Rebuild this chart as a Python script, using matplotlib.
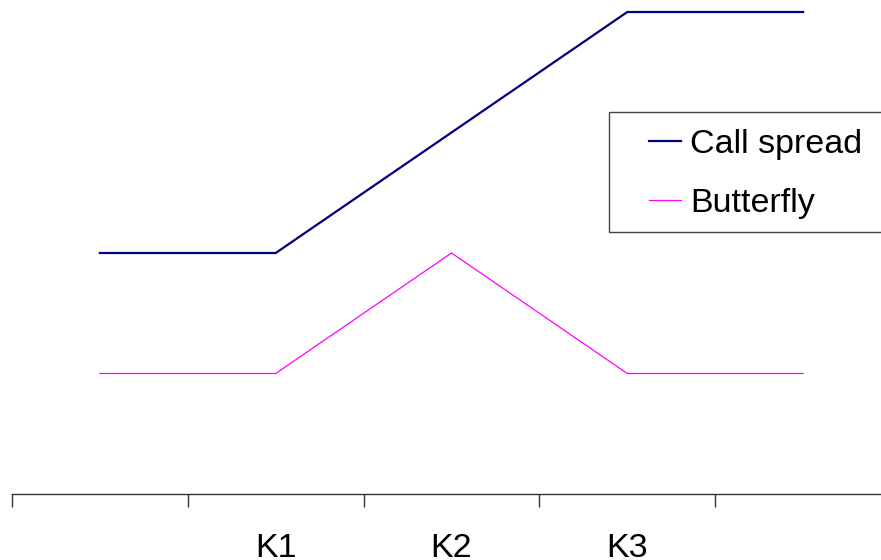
import matplotlib
matplotlib.use("Agg")
import matplotlib.pyplot as plt
from matplotlib.patches import Rectangle

# payoff profiles, one value per category
categories = ["", "K1", "K2", "K3", ""]
call_spread = [2, 2, 3, 4, 4]
butterfly = [1, 1, 2, 1, 1]

plt.rcParams['font.family'] = ['Liberation Sans', 'DejaVu Sans']

W, H = 881, 560
fig = plt.figure(figsize=(W / 100, H / 100), dpi=100)
ax = fig.add_axes([12 / W, 66 / H, 879 / W, 494 / H])

x = [i + 0.5 for i in range(len(categories))]
ax.plot(x, call_spread, color='#000080', lw=1.6, label="Call spread")
ax.plot(x, butterfly, color='#FF00FF', lw=0.9, label="Butterfly")

ax.set_xlim(0, len(categories))
ax.set_ylim(0, 494 / 120.5)

for s in ['top', 'left', 'right']:
    ax.spines[s].set_visible(False)
ax.spines['bottom'].set_color('#333333')
ax.spines['bottom'].set_linewidth(1.0)
ax.set_yticks([])

ax.set_xticks(range(len(categories) + 1))
ax.set_xticklabels([])
ax.tick_params(axis='x', which='major', length=9, width=1.0, color='#333333', direction='out')
# category labels sit between the ticks, cut by the bottom edge as in the original
ax.set_xticks(x, minor=True)
ax.set_xticklabels(categories, minor=True, fontsize=24.5)
ax.tick_params(axis='x', which='minor', length=0, pad=28)

# legend with a hand drawn frame
fig.patches.append(Rectangle((609 / W, 1 - 232 / H), 290 / W, 120 / H,
                             transform=fig.transFigure, fill=False,
                             edgecolor='#444444', lw=1.0))
fig.legend(loc='center left', bbox_to_anchor=(649 / W, 1 - 174 / H),
           frameon=False, fontsize=24.5, handlelength=0.95, handletextpad=0.25,
           labelspacing=0.82, borderpad=0, borderaxespad=0)

fig.savefig("out.png", dpi=100)
